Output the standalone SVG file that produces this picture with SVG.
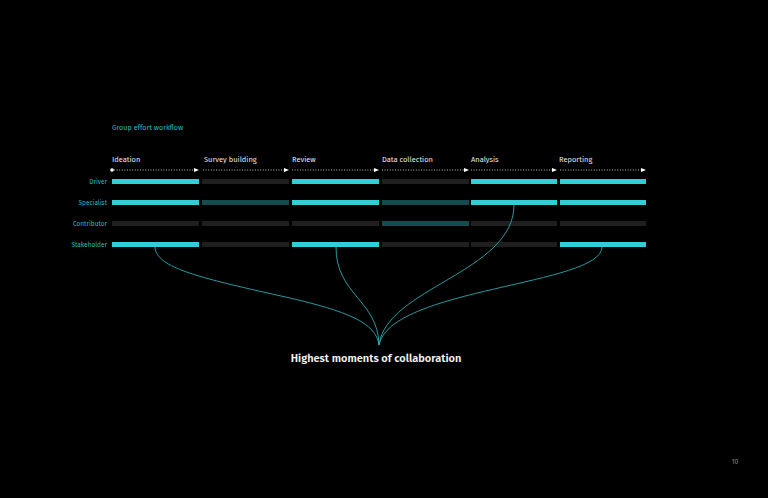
<svg xmlns="http://www.w3.org/2000/svg" width="768" height="498" viewBox="0 0 768 498">
<style>
text{font-family:"Fira Sans","Noto Sans","Open Sans",sans-serif}
.title{fill:#2bb8c0;font-size:7.2px}
.hdr{fill:#e6e6e6;font-size:7.5px}
.role{fill:#2bb8c0;font-size:6.5px;text-anchor:end}
.c{fill:#33cdd6}
.g{fill:#1f1f1f}
.t{fill:#154a4e}
.dots{stroke:#cfcfcf;stroke-width:0.9;stroke-dasharray:1 1.6;fill:none}
.tip{fill:#ffffff}
.link{stroke:#2aa9b0;stroke-width:0.9;fill:none}
.big{fill:#f2f2f2;font-size:11px;font-weight:600;text-anchor:middle}
</style>
<rect width="768" height="498" fill="#000"/>
<text class="title" x="112" y="130">Group effort workflow</text>
<g id="phases">
<text class="hdr" x="112" y="162">Ideation</text>
<text class="hdr" x="204" y="162">Survey building</text>
<text class="hdr" x="292" y="162">Review</text>
<text class="hdr" x="382" y="162">Data collection</text>
<text class="hdr" x="471" y="162">Analysis</text>
<text class="hdr" x="559" y="162">Reporting</text>
</g>
<g id="timeline">
<circle cx="112" cy="170" r="1.8" fill="#fff"/>
<path class="dots" d="M114,170H195 M203,170H285 M292,170H375 M382,170H465 M471,170H553 M560,170H642"/>
<path class="tip" d="M194,168l5,2l-5,2z M284,168l5,2l-5,2z M374,168l5,2l-5,2z M464,168l5,2l-5,2z M552,168l5,2l-5,2z M641,168l5,2l-5,2z"/>
</g>
<g id="roles">
<text class="role" x="107" y="183.5">Driver</text>
<text class="role" x="107" y="204.5">Specialist</text>
<text class="role" x="107" y="225.5">Contributor</text>
<text class="role" x="107" y="246.5">Stakeholder</text>
</g>
<g id="row-driver">
<rect class="c" x="112" y="179" width="87" height="5"/>
<rect class="g" x="202" y="179" width="87" height="5"/>
<rect class="c" x="292" y="179" width="87" height="5"/>
<rect class="g" x="382" y="179" width="87" height="5"/>
<rect class="c" x="471" y="179" width="86" height="5"/>
<rect class="c" x="560" y="179" width="86" height="5"/>
</g>
<g id="row-specialist">
<rect class="c" x="112" y="200" width="87" height="5"/>
<rect class="t" x="202" y="200" width="87" height="5"/>
<rect class="c" x="292" y="200" width="87" height="5"/>
<rect class="t" x="382" y="200" width="87" height="5"/>
<rect class="c" x="471" y="200" width="86" height="5"/>
<rect class="c" x="560" y="200" width="86" height="5"/>
</g>
<g id="row-contributor">
<rect class="g" x="112" y="221" width="87" height="5"/>
<rect class="g" x="202" y="221" width="87" height="5"/>
<rect class="g" x="292" y="221" width="87" height="5"/>
<rect class="t" x="382" y="221" width="87" height="5"/>
<rect class="g" x="471" y="221" width="86" height="5"/>
<rect class="g" x="560" y="221" width="86" height="5"/>
</g>
<g id="row-stakeholder">
<rect class="c" x="112" y="242" width="87" height="5"/>
<rect class="g" x="202" y="242" width="87" height="5"/>
<rect class="c" x="292" y="242" width="87" height="5"/>
<rect class="g" x="382" y="242" width="87" height="5"/>
<rect class="g" x="471" y="242" width="86" height="5"/>
<rect class="c" x="560" y="242" width="86" height="5"/>
</g>
<g id="connectors">
<path class="link" d="M155,247 C156,268 200,278 290,298 C345,311 376,322 379,345"/>
<path class="link" d="M336,247 C336,295 378,300 379,345"/>
<path class="link" d="M514,205 C514,272 386,288 379,345"/>
<path class="link" d="M602,247 C602,285 390,288 379,345"/>
</g>
<text class="big" x="376" y="362">Highest moments of collaboration</text>
<text x="735" y="464" fill="#8a8a8a" font-size="6.5" text-anchor="middle" font-family="Noto Sans, sans-serif">10</text>
</svg>
